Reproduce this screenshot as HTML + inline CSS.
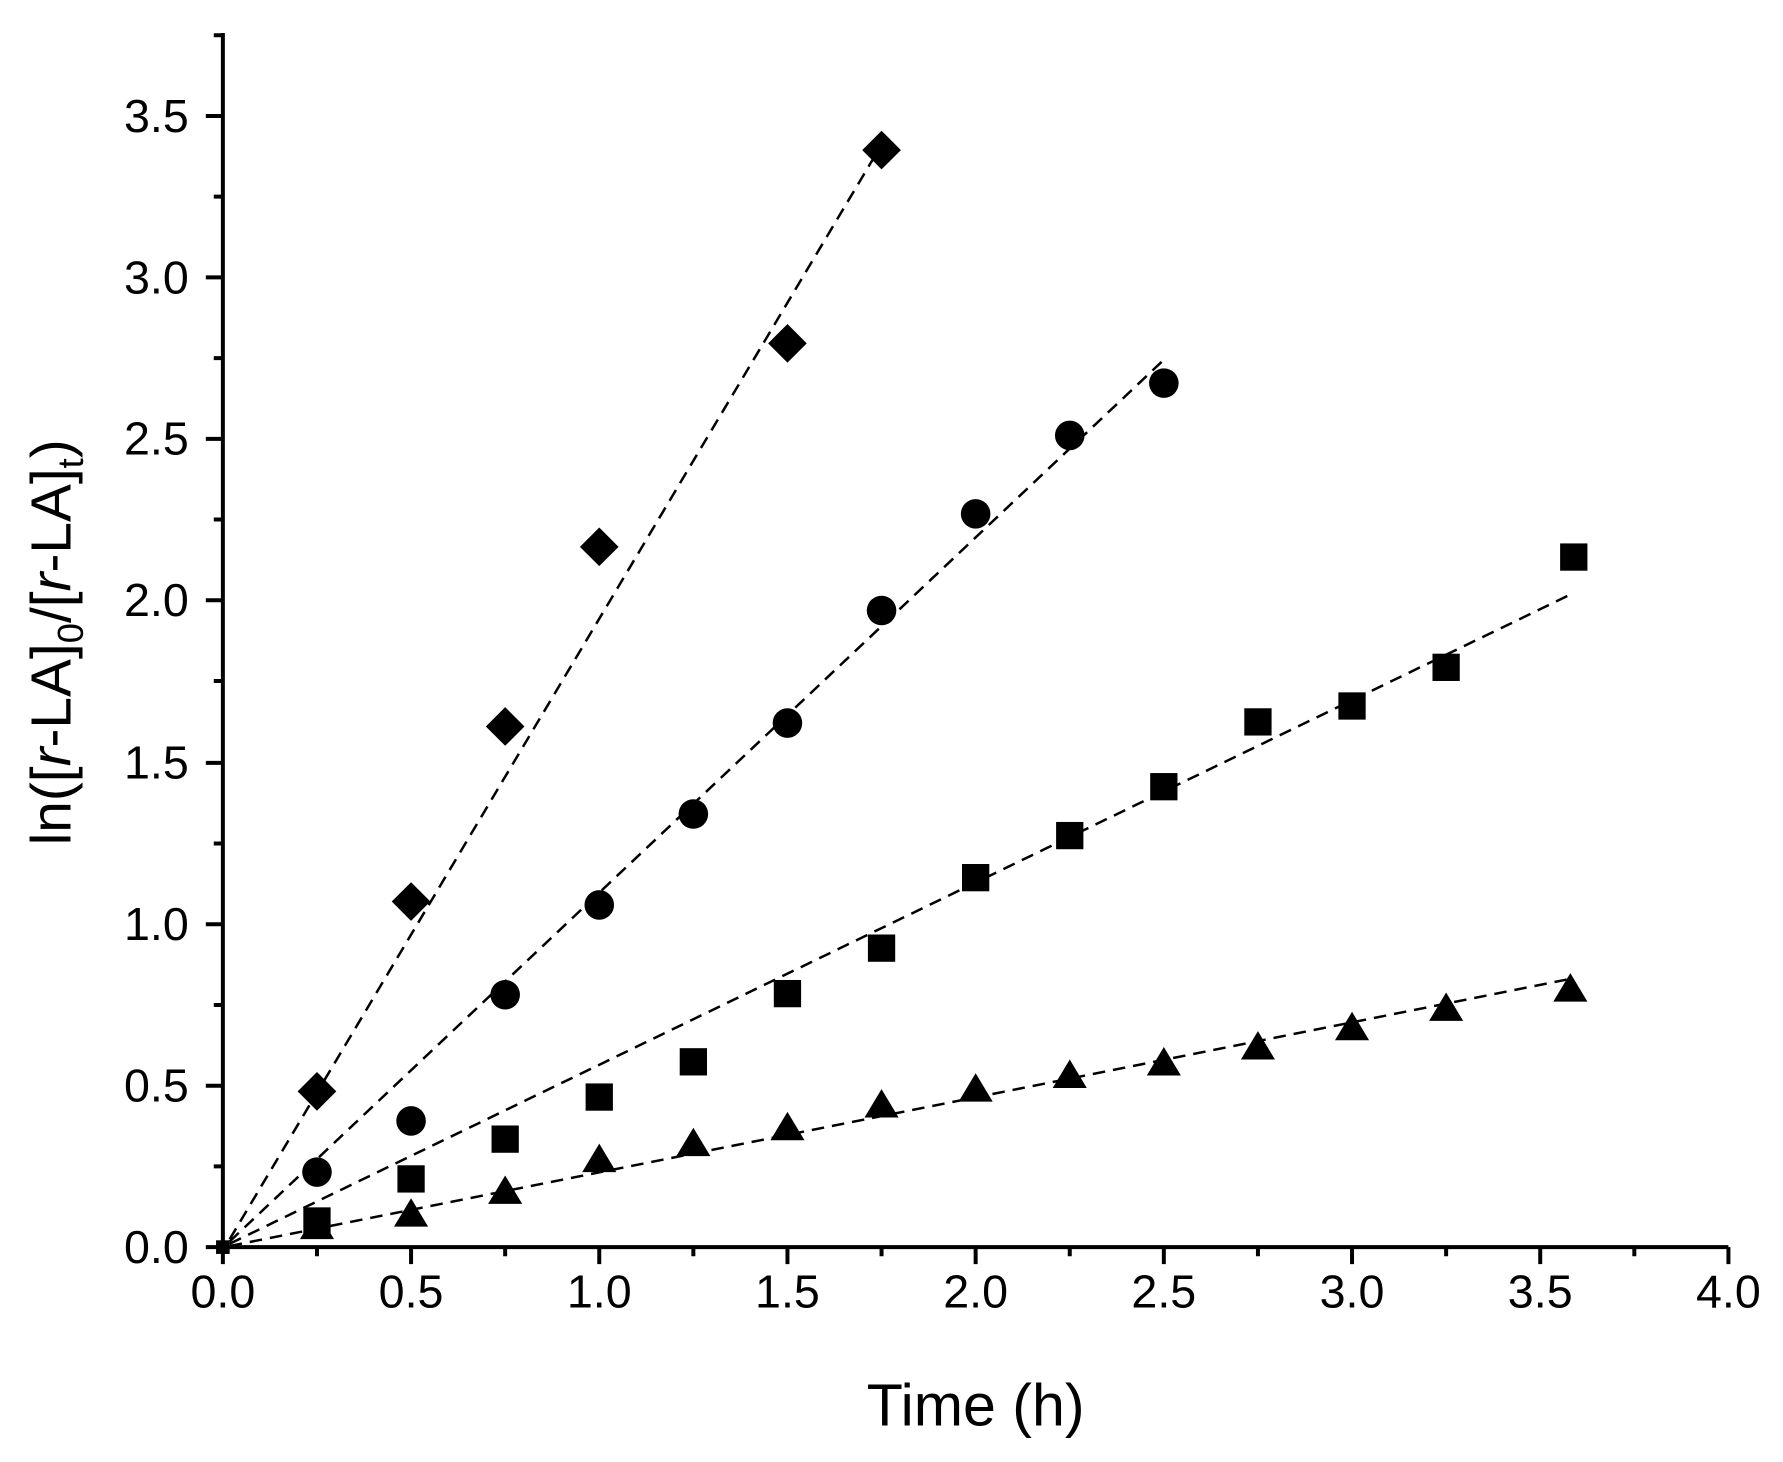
<!DOCTYPE html>
<html><head><style>html,body{margin:0;padding:0;background:#fff}svg{display:block}</style></head>
<body>
<svg width="1783" height="1462" viewBox="0 0 1568 1286" preserveAspectRatio="none" xmlns="http://www.w3.org/2000/svg" font-family="Liberation Sans, Arial, sans-serif">
<rect width="1568" height="1286" fill="#fff"/>
<g stroke="#000" stroke-width="3.5" fill="none">
<path d="M196,29 V1097 H1520"/>
<path d="M181,1097h15M181,955h15M181,813h15M181,671h15M181,528h15M181,386h15M181,244h15M181,102h15"/>
<path d="M188,1026h8M188,884h8M188,742h8M188,599h8M188,457h8M188,315h8M188,173h8M188,31h8"/>
<path d="M196,1097v15M361.5,1097v15M527,1097v15M692.5,1097v15M858,1097v15M1023.5,1097v15M1189,1097v15M1354.5,1097v15M1520,1097v15"/>
<path d="M278.75,1097v8M444.25,1097v8M609.75,1097v8M775.25,1097v8M940.75,1097v8M1106.25,1097v8M1271.75,1097v8M1437.25,1097v8"/>
</g>
<g font-size="41" text-anchor="end" fill="#000">
<text x="166" y="1111">0.0</text><text x="166" y="969">0.5</text><text x="166" y="827">1.0</text><text x="166" y="685">1.5</text><text x="166" y="542">2.0</text><text x="166" y="400">2.5</text><text x="166" y="258">3.0</text><text x="166" y="116">3.5</text>
</g>
<g font-size="41" text-anchor="middle" fill="#000">
<text x="196" y="1150">0.0</text><text x="361.5" y="1150">0.5</text><text x="527" y="1150">1.0</text><text x="692.5" y="1150">1.5</text><text x="858" y="1150">2.0</text><text x="1023.5" y="1150">2.5</text><text x="1189" y="1150">3.0</text><text x="1354.5" y="1150">3.5</text><text x="1520" y="1150">4.0</text>
</g>
<text x="858" y="1254" font-size="52" text-anchor="middle">Time (h)</text>
<text transform="translate(62,565) rotate(-90)" font-size="50" text-anchor="middle">ln([<tspan font-style="italic">r</tspan>-LA]<tspan font-size="32" dy="11">0</tspan><tspan dy="-11">/[</tspan><tspan font-style="italic">r</tspan>-LA]<tspan font-size="32" dy="11">t</tspan><tspan dy="-11">)</tspan></text>
<g stroke="#000" stroke-width="2.2" stroke-dasharray="11,7" fill="none">
<line x1="202" y1="1090" x2="782" y2="116"/>
<line x1="202" y1="1092" x2="1024" y2="316"/>
<line x1="202" y1="1094" x2="1381" y2="523"/>
<line x1="202" y1="1096" x2="1381" y2="861"/>
</g>
<g fill="#000">
<rect x="190" y="1091" width="12" height="12"/>
<path d="M278.75,943 l17,17 -17,17 -17,-17z"/>
<path d="M361.5,776 l17,17 -17,17 -17,-17z"/>
<path d="M444.25,622 l17,17 -17,17 -17,-17z"/>
<path d="M527,464 l17,17 -17,17 -17,-17z"/>
<path d="M692.5,285 l17,17 -17,17 -17,-17z"/>
<path d="M775.25,115 l17,17 -17,17 -17,-17z"/>
<circle cx="278.75" cy="1031" r="13"/><circle cx="361.5" cy="986" r="13"/><circle cx="444.25" cy="875" r="13"/><circle cx="527" cy="796" r="13"/><circle cx="609.75" cy="716" r="13"/><circle cx="692.5" cy="636" r="13"/><circle cx="775.25" cy="537" r="13"/><circle cx="858" cy="452" r="13"/><circle cx="940.75" cy="383" r="13"/><circle cx="1023.5" cy="337" r="13"/>
<g>
<rect x="266.75" y="1062" width="24" height="24"/><rect x="349.5" y="1025" width="24" height="24"/><rect x="432.25" y="990" width="24" height="24"/><rect x="515" y="953" width="24" height="24"/><rect x="597.75" y="922" width="24" height="24"/><rect x="680.5" y="862" width="24" height="24"/><rect x="763.25" y="822" width="24" height="24"/><rect x="846" y="760" width="24" height="24"/><rect x="928.75" y="723" width="24" height="24"/><rect x="1011.5" y="680" width="24" height="24"/><rect x="1094.25" y="623" width="24" height="24"/><rect x="1177" y="609" width="24" height="24"/><rect x="1259.75" y="575" width="24" height="24"/><rect x="1372" y="478" width="24" height="24"/>
</g>
<path d="M278.75,1065 l15,25 h-30z M361.5,1054 l15,25 h-30z M444.25,1034 l15,25 h-30z M527,1006 l15,25 h-30z M609.75,992 l15,25 h-30z M692.5,978 l15,25 h-30z M775.25,958 l15,25 h-30z M858,944 l15,25 h-30z M940.75,932 l15,25 h-30z M1023.5,921 l15,25 h-30z M1106.25,907 l15,25 h-30z M1189,890 l15,25 h-30z M1271.75,873 l15,25 h-30z M1381,856 l15,25 h-30z"/>
</g>
</svg>
</body></html>
